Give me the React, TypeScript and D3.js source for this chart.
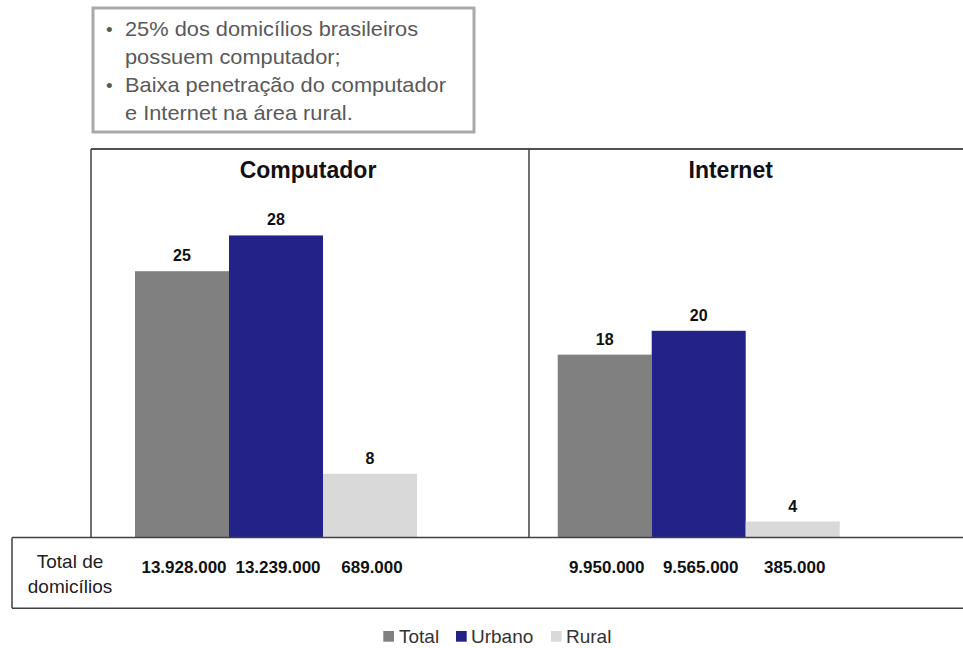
import React from "react";
import * as d3 from "d3";

// Share of households (%) by indicator and area
const groups = ["Computador", "Internet"];
const series = ["Total", "Urbano", "Rural"];
const totalValues = [25, 18];
const urbanoValues = [28, 20];
const ruralValues = [8, 4];
// Absolute number of households, per indicator and area
const householdCounts = [
  ["13.928.000", "13.239.000", "689.000"],
  ["9.950.000", "9.565.000", "385.000"],
];
const bullets = [
  ["25% dos domicílios brasileiros", "possuem computador;"],
  ["Baixa penetração do computador", "e Internet na área rural."],
];
const colors = ["#808080", "#222288", "#d9d9d9"];

const W = 963;
const H = 648;
const FONT = "'Liberation Sans', Arial, Helvetica, sans-serif";

export default function App() {
  const valuesBySeries = [totalValues, urbanoValues, ruralValues];

  const frameLeft = 91;
  const frameTop = 149;
  const divider = 529;
  const tableTop = 537.5;
  const tableBottom = 608.3;
  const tableLeft = 12;

  const x0 = d3.scaleBand<string>().domain(groups).range([135, 980.4]).padding(0);
  const x1 = d3.scaleBand<string>().domain(series).range([0, 282]).padding(0);
  const y = d3.scaleLinear().domain([0, 30]).range([569.2, 211.6]);

  const legendItems = [
    { label: "Total", sq: 383.3, tx: 399 },
    { label: "Urbano", sq: 456, tx: 471 },
    { label: "Rural", sq: 551, tx: 566 },
  ];

  return (
    <svg
      width={W}
      height={H}
      viewBox={`0 0 ${W} ${H}`}
      style={{ position: "absolute", left: 0, top: 0, background: "#fff" }}
      fontFamily={FONT}
    >
      <defs>
        <clipPath id="plotClip">
          <rect x={frameLeft} y={frameTop} width={W - frameLeft} height={tableTop - frameTop} />
        </clipPath>
      </defs>
      <rect x={0} y={0} width={W} height={H} fill="#fff" />

      {/* Notes box */}
      <rect x={93} y={8} width={381} height={124} fill="#fff" stroke="#a9a9a9" strokeWidth={3} />
      {bullets.map((lines, i) =>
        lines.map((line, j) => {
          const by = 36 + (i * 2 + j) * 28;
          return (
            <g key={`${i}-${j}`}>
              {j === 0 && (
                <text x={106} y={by} fontSize={19} fill="#595959">•</text>
              )}
              <g transform={`translate(125, ${by}) scale(1.09, 1)`}>
                <text x={0} y={0} fontSize={20} fill="#595959">
                  {line}
                </text>
              </g>
            </g>
          );
        })
      )}

      {/* Chart frame */}
      <line x1={frameLeft} x2={W} y1={frameTop} y2={frameTop} stroke="#505050" strokeWidth={2} />
      <line x1={frameLeft} x2={frameLeft} y1={frameTop} y2={tableTop} stroke="#404040" strokeWidth={1.5} />
      <line x1={divider} x2={divider} y1={frameTop} y2={tableTop} stroke="#404040" strokeWidth={1.5} />

      {/* Panel titles */}
      {groups.map((g) => (
        <text
          key={g}
          x={(x0(g) ?? 0) + 173}
          y={178}
          textAnchor="middle"
          fontSize={23}
          fontWeight="bold"
          fill="#111"
        >
          {g}
        </text>
      ))}

      {/* Bars */}
      <g clipPath="url(#plotClip)">
        {groups.map((g, gi) =>
          series.map((s, si) => {
            const v = valuesBySeries[si][gi];
            const bx = (x0(g) ?? 0) + (x1(s) ?? 0);
            return (
              <rect
                key={`${g}-${s}`}
                x={bx}
                y={y(v)}
                width={x1.bandwidth()}
                height={y(0) - y(v)}
                fill={colors[si]}
              />
            );
          })
        )}
      </g>

      {/* Value labels */}
      {groups.map((g, gi) =>
        series.map((s, si) => {
          const v = valuesBySeries[si][gi];
          const cx = (x0(g) ?? 0) + (x1(s) ?? 0) + x1.bandwidth() / 2;
          return (
            <text
              key={`lbl-${g}-${s}`}
              x={cx}
              y={y(v) - 10}
              textAnchor="middle"
              fontSize={16}
              fontWeight="bold"
              fill="#111"
            >
              {v}
            </text>
          );
        })
      )}

      {/* Household count table */}
      <line x1={tableLeft} x2={W} y1={tableTop} y2={tableTop} stroke="#404040" strokeWidth={1.5} />
      <line x1={tableLeft} x2={W} y1={tableBottom} y2={tableBottom} stroke="#404040" strokeWidth={1.5} />
      <line x1={tableLeft} x2={tableLeft} y1={tableTop} y2={tableBottom} stroke="#404040" strokeWidth={1.5} />
      <text x={70} y={567.7} textAnchor="middle" fontSize={19} fill="#222">Total de</text>
      <text x={70} y={593.3} textAnchor="middle" fontSize={19} fill="#222">domicílios</text>
      {groups.map((g, gi) =>
        series.map((s, si) => {
          const cx = (x0(g) ?? 0) + (x1(s) ?? 0) + x1.bandwidth() / 2 + 2;
          return (
            <text
              key={`cnt-${g}-${s}`}
              x={cx}
              y={573.3}
              textAnchor="middle"
              fontSize={17}
              fontWeight="bold"
              fill="#111"
            >
              {householdCounts[gi][si]}
            </text>
          );
        })
      )}

      {/* Legend */}
      {legendItems.map((it, i) => (
        <g key={it.label}>
          <rect x={it.sq} y={631} width={10.7} height={10.7} fill={colors[i]} />
          <text x={it.tx} y={643.3} fontSize={19} fill="#333">
            {it.label}
          </text>
        </g>
      ))}
    </svg>
  );
}
